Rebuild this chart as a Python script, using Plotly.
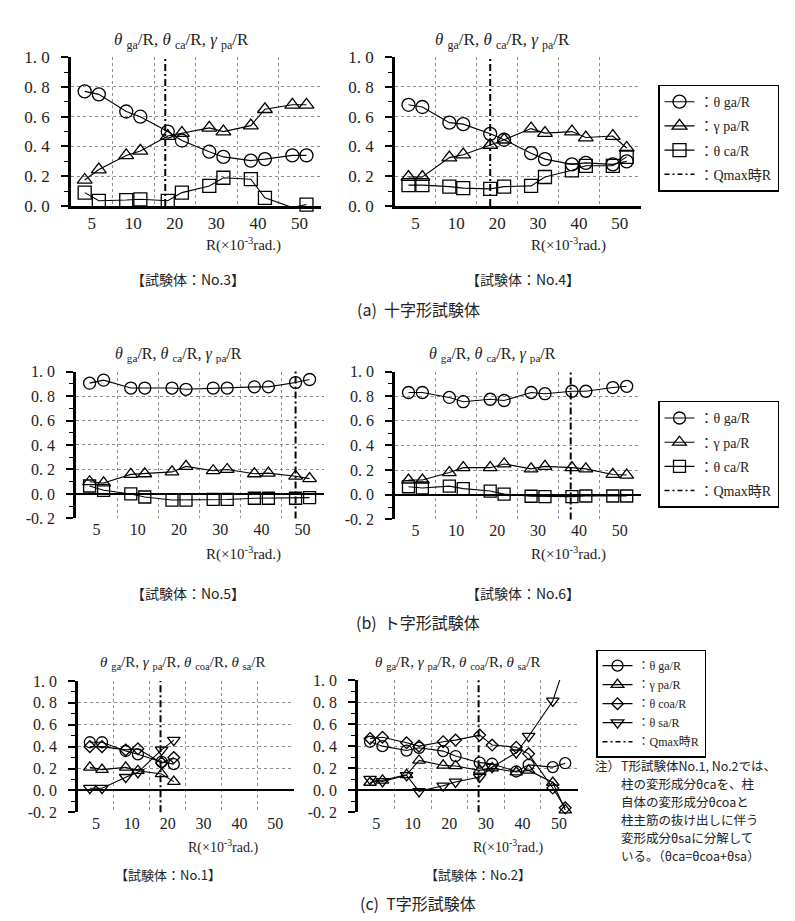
import plotly.graph_objects as go

W, H = 795, 921

# ---------------- data ----------------
R_LEVELS = [5, 10, 20, 30, 40, 50]
TICK_LABELS = ["5", "10", "20", "30", "40", "50"]
CYCLE_SHIFT = [-0.17, 0.17]          # two cycles per amplitude

# (a) 十字形試験体
no3_ga = [0.77, 0.75, 0.635, 0.60, 0.50, 0.44, 0.365, 0.33, 0.305, 0.315, 0.34, 0.34]
no3_pa = [0.175, 0.245, 0.34, 0.37, 0.47, 0.49, 0.525, 0.50, 0.54, 0.65, 0.68, 0.68]
no3_ca = [0.09, 0.035, 0.04, 0.045, 0.035, 0.09, 0.135, 0.19, 0.18, 0.055, -0.01, 0.01]

no4_ga = [0.68, 0.665, 0.56, 0.55, 0.485, 0.445, 0.355, 0.315, 0.28, 0.29, 0.28, 0.30]
no4_pa = [0.195, 0.195, 0.325, 0.345, 0.41, 0.445, 0.52, 0.49, 0.50, 0.46, 0.47, 0.39]
no4_ca = [0.14, 0.14, 0.13, 0.12, 0.115, 0.13, 0.135, 0.195, 0.24, 0.27, 0.27, 0.33]

# (b) ト字形試験体
no5_ga = [0.905, 0.93, 0.865, 0.865, 0.865, 0.855, 0.865, 0.865, 0.875, 0.875, 0.91, 0.935]
no5_pa = [0.10, 0.09, 0.16, 0.165, 0.18, 0.225, 0.19, 0.20, 0.165, 0.17, 0.145, 0.125]
no5_ca = [0.065, 0.03, 0.0, -0.025, -0.05, -0.05, -0.045, -0.045, -0.035, -0.035, -0.035, -0.03]

no6_ga = [0.83, 0.83, 0.79, 0.755, 0.775, 0.765, 0.83, 0.82, 0.84, 0.84, 0.87, 0.88]
no6_pa = [0.12, 0.12, 0.18, 0.22, 0.22, 0.25, 0.21, 0.23, 0.22, 0.21, 0.165, 0.16]
no6_ca = [0.065, 0.055, 0.07, 0.05, 0.03, 0.005, -0.012, -0.015, -0.015, -0.01, -0.01, -0.01]

# (c) T字形試験体
no1_ga = [0.44, 0.44, 0.36, 0.33, 0.26, 0.24]
no1_pa = [0.21, 0.19, 0.21, 0.18, 0.15, 0.08]
no1_coa = [0.40, 0.40, 0.37, 0.38, 0.25, 0.30]
no1_sa = [0.02, 0.02, 0.12, 0.165, 0.37, 0.46]

no2_ga = [0.44, 0.40, 0.36, 0.385, 0.355, 0.31, 0.25, 0.24, 0.17, 0.23, 0.21, 0.245]
no2_pa = [0.07, 0.09, 0.14, 0.27, 0.225, 0.22, 0.18, 0.20, 0.165, 0.18, 0.07, -0.18]
no2_coa = [0.47, 0.48, 0.43, 0.40, 0.44, 0.455, 0.50, 0.41, 0.39, 0.33, 0.02, -0.16]
no2_sa = [0.10, 0.08, 0.135, -0.01, 0.04, 0.075, 0.12, 0.21, 0.34, 0.49, 0.81, 1.15]

# Qmax position (in amplitude-step units of the x axis)
QMAX_POS = {"No.3": 2.77, "No.4": 2.83, "No.5": 5.83, "No.6": 4.8, "No.1": 2.8, "No.2": 3.8}

Y_TICKS_A = [0.0, 0.2, 0.4, 0.6, 0.8, 1.0]
Y_TICKS_BC = [-0.2, 0.0, 0.2, 0.4, 0.6, 0.8, 1.0]

NOTE_LINES = ["T形試験体No.1, No.2では、", "柱の変形成分θcaを、柱", "自体の変形成分θcoaと",
              "柱主筋の抜け出しに伴う", "変形成分θsaに分解して", "いる。（θca=θcoa+θsa）"]

SERIF = "Liberation Serif, Noto Sans CJK JP, serif"
CJK = "Noto Sans CJK JP"


def ylab(v):
    s = "%.1f" % v
    return s.replace(".", ". ")


def xpos(n):
    xs = []
    for i in range(len(R_LEVELS)):
        for s in CYCLE_SHIFT:
            xs.append(i + 1 + s)
    return xs[:n]


def px_x(p):
    return p / W


def px_y(p):
    return 1 - p / H


SYM = {
    "ga": ("circle-open", "：θ ga/R"),
    "pa": ("triangle-up-open", "：γ pa/R"),
    "ca": ("square-open", "：θ ca/R"),
    "coa": ("diamond-open", "：θ coa/R"),
    "sa": ("triangle-down-open", "：θ sa/R"),
}

panels = [
    dict(name="No.3", sec="a", xd=(63, 313), yd=(41, 193), yr=(0.0, 1.0),
         series=[("ga", no3_ga), ("pa", no3_pa), ("ca", no3_ca)], legend="legend", show=True),
    dict(name="No.4", sec="a", xd=(387, 633), yd=(41, 193), yr=(0.0, 1.0),
         series=[("ga", no4_ga), ("pa", no4_pa), ("ca", no4_ca)], legend="legend", show=False),
    dict(name="No.5", sec="b", xd=(68, 316), yd=(362, 512), yr=(-0.2, 1.0),
         series=[("ga", no5_ga), ("pa", no5_pa), ("ca", no5_ca)], legend="legend2", show=True),
    dict(name="No.6", sec="b", xd=(387, 633), yd=(362, 513), yr=(-0.2, 1.0),
         series=[("ga", no6_ga), ("pa", no6_pa), ("ca", no6_ca)], legend="legend2", show=False),
    dict(name="No.1", sec="c", xd=(70, 286), yd=(678, 812), yr=(-0.2, 1.0),
         series=[("ga", no1_ga), ("pa", no1_pa), ("coa", no1_coa), ("sa", no1_sa)], legend="legend3", show=True),
    dict(name="No.2", sec="c", xd=(350, 570), yd=(677, 812), yr=(-0.2, 1.0),
         series=[("ga", no2_ga), ("pa", no2_pa), ("coa", no2_coa), ("sa", no2_sa)], legend="legend3", show=False),
]

MSIZE = {"a": 13, "b": 12, "c": 11}
TFONT = {"a": 17, "b": 16, "c": 16}

fig = go.Figure()
layout = {}
shapes = []
annotations = []

for k, p in enumerate(panels):
    idx = "" if k == 0 else str(k + 1)
    xa, ya = "x" + idx, "y" + idx
    sec = p["sec"]
    yt = Y_TICKS_A if sec == "a" else Y_TICKS_BC
    layout["xaxis" + idx] = dict(
        domain=[px_x(p["xd"][0]), px_x(p["xd"][1])], anchor=ya,
        range=[0.5, 6.52], tickmode="array", tickvals=list(range(1, 7)), ticktext=TICK_LABELS,
        ticks="", showgrid=False, zeroline=False,
        showline=(sec == "a"), linecolor="black", linewidth=2.5,
        tickfont=dict(family=SERIF, size=TFONT[sec], color="#222"),
        minor=dict(tickmode="array", tickvals=[1.5, 2.5, 3.5, 4.5, 5.5, 6.5], showgrid=True,
                   gridcolor="#8c8c8c", griddash="dot", gridwidth=1, ticks=""),
        fixedrange=True,
    )
    layout["yaxis" + idx] = dict(
        domain=[px_y(p["yd"][1]), px_y(p["yd"][0])], anchor=xa,
        range=list(p["yr"]), tickmode="array", tickvals=yt, ticktext=[ylab(v) for v in yt],
        ticks="outside", ticklen=7, tickwidth=1.5, tickcolor="black",
        showline=True, linecolor="black", linewidth=2.5,
        showgrid=True, gridcolor="#8c8c8c", griddash="dot", gridwidth=1,
        zeroline=(sec != "a"), zerolinecolor="black", zerolinewidth=2,
        minor=dict(dtick=0.1, tick0=0, ticks="outside", ticklen=4, tickwidth=1.2,
                   tickcolor="black", showgrid=False),
        tickfont=dict(family=SERIF, size=TFONT[sec], color="#222"),
        ticklabelstandoff=8,
        fixedrange=True,
    )
    ms = MSIZE[sec]
    for key, vals in p["series"]:
        sym, label = SYM[key]
        size = ms - 2 if key == "coa" else ms
        fig.add_trace(go.Scatter(
            x=xpos(len(vals)), y=vals, mode="lines+markers", xaxis=xa, yaxis=ya,
            line=dict(color="black", width=1.1),
            marker=dict(symbol=sym, size=size, color="black", line=dict(width=1.3, color="black")),
            name=label, legend=p["legend"], legendgroup=p["legend"] + key,
            showlegend=p["show"], cliponaxis=False,
        ))
    # Qmax line
    shapes.append(dict(type="line", xref=xa, yref=ya + " domain", x0=QMAX_POS[p["name"]],
                       x1=QMAX_POS[p["name"]], y0=0, y1=1,
                       line=dict(color="black", width=2, dash="7px,3px,2px,3px")))
    if p["show"]:
        fig.add_trace(go.Scatter(x=[None], y=[None], mode="lines", xaxis=xa, yaxis=ya,
                                 line=dict(color="black", width=1.5, dash="5px,3px,2px,3px"),
                                 name="：Qmax時R", legend=p["legend"],
                                 legendgroup=p["legend"] + "qmax", showlegend=True))

# ---------------- text ----------------
NB = "\u00a0"
title_ab = ("<i>θ</i>" + NB + "<sub>ga</sub>/R, <i>θ</i>" + NB + "<sub>ca</sub>/R, <i>γ</i>"
            + NB + "<sub>pa</sub>/R")
title_c = ("<i>θ</i>" + NB + "<sub>ga</sub>/R, <i>γ</i>" + NB + "<sub>pa</sub>/R, <i>θ</i>" + NB
           + "<sub>coa</sub>/R, <i>θ</i>" + NB + "<sub>sa</sub>/R")
xtitle = "R(×10<sup>-3</sup>rad.)"


def ann(text, x, y, size, family=SERIF, xanchor="center", yanchor="middle", align="center"):
    annotations.append(dict(text=text, x=px_x(x), y=px_y(y), xref="paper", yref="paper",
                            showarrow=False, xanchor=xanchor, yanchor=yanchor, align=align,
                            font=dict(family=family, size=size, color="#222")))


# titles
ann(title_ab, 173, 24, 17)
ann(title_ab, 494, 24, 17)
ann(title_ab, 170, 345, 16)
ann(title_ab, 484, 345, 16)
ann(title_c, 174, 660, 15)
ann(title_c, 449, 660, 15)

# x axis titles
ann(xtitle, 235, 232, 15)
ann(xtitle, 560, 232, 15)
ann(xtitle, 235, 548, 15)
ann(xtitle, 560, 548, 15)
ann(xtitle, 215, 847, 14)
ann(xtitle, 500, 847, 14)

# specimen labels
ann("【試験体：No.3】", 180, 268, 14, CJK)
ann("【試験体：No.4】", 515, 268, 14, CJK)
ann("【試験体：No.5】", 180, 588, 14, CJK)
ann("【試験体：No.6】", 515, 588, 14, CJK)
ann("【試験体：No.1】", 160, 876, 13, CJK)
ann("【試験体：No.2】", 470, 876, 13, CJK)

# captions
ann("(a)  十字形試験体", 410, 298, 16, CJK)
ann("(b)  ト字形試験体", 410, 618, 16, CJK)
ann("(c)  T字形試験体", 410, 905, 16, CJK)

# note
ann("注）", 585, 764, 12.5, CJK, xanchor="left")
for i, line in enumerate(NOTE_LINES):
    ann(line, 611, 764 + 18.4 * i, 12.5, CJK, xanchor="left")

leg_common = dict(xanchor="left", yanchor="top", bgcolor="white", bordercolor="black",
                  borderwidth=1.5, itemwidth=30, traceorder="grouped", itemclick=False,
                  itemdoubleclick=False)
layout["legend"] = dict(x=px_x(650), y=px_y(69), font=dict(family=SERIF, size=14, color="#222"),
                        tracegroupgap=3, **leg_common)
layout["legend2"] = dict(x=px_x(650), y=px_y(392), font=dict(family=SERIF, size=14, color="#222"),
                         tracegroupgap=3, **leg_common)
layout["legend3"] = dict(x=px_x(588), y=px_y(646), font=dict(family=SERIF, size=12, color="#222"),
                         tracegroupgap=0, **leg_common)

fig.update_layout(
    width=W, height=H, margin=dict(l=0, r=0, t=0, b=0),
    paper_bgcolor="white", plot_bgcolor="white",
    shapes=shapes, annotations=annotations, **layout,
)

fig.write_html("out.html")
